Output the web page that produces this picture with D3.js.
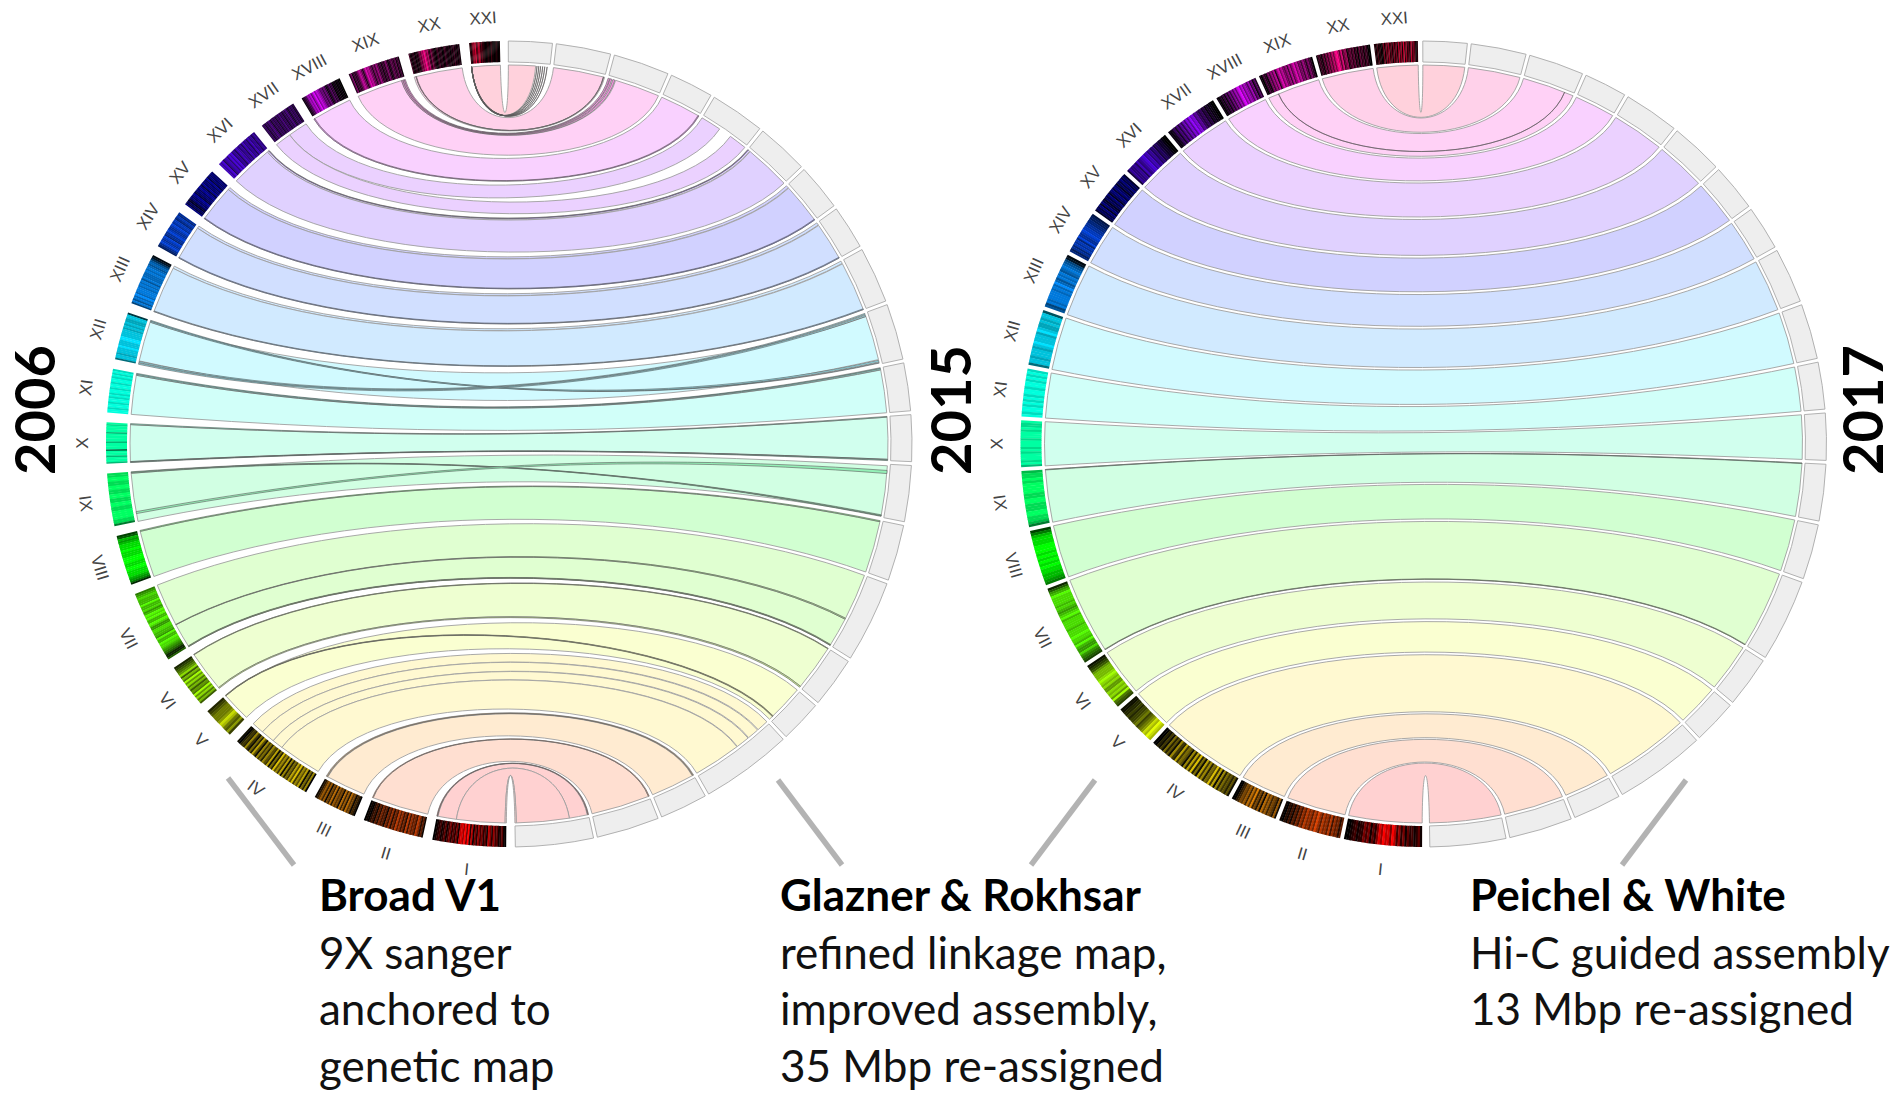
<!DOCTYPE html>
<html>
<head>
<meta charset="utf-8">
<script src="https://d3js.org/d3.v7.min.js"></script>
<style>
html,body{margin:0;background:#fff;}
svg{display:block;}
.lab{font:17px "Liberation Sans",sans-serif;fill:#444;text-anchor:middle;}
.year{font:bold 56px Lato,sans-serif;fill:#000;text-anchor:middle;}
.cap{font:44px Lato,sans-serif;fill:#111;}
.capb{font-weight:bold;fill:#000;}
</style>
</head>
<body>
<div class="draw"></div>
<script>
// chromosomes from the top of the circle to the bottom
var chroms = ["XXI","XX","XIX","XVIII","XVII","XVI","XV","XIV","XIII","XII","XI","X","IX","VIII","VII","VI","V","IV","III","II","I"];
var hues   = [346,328,312,292,274,260,240,222,207,187,172,158,143,120,100,82,66,52,34,18,0];

// sizes in Mbp
var len2006 = [11.7,19.7,20.2,16.3,14.6,18.1,16.2,15.2,20.1,18.4,16.7,15.7,20.2,19.4,27.9,17.1,12.3,32.6,16.8,23.3,28.2];
var len2015 = [16,20,20.5,16,20,19,17,16,20.5,20.5,17.5,17,20.5,20.5,30,18.5,15.5,33.5,17.5,23,28.5];
var len2017 = [16,20,20,15.5,20,19,17,16,20,20,17,17,20.5,20,30,18.5,16,33,17.5,23,27.5];

// gene density along each chromosome, 0 black .. 9 full colour
var bands2006 = [
 "10121011301210122426743856412",
 "120213120211231022132012352375796745312022113",
 "13142342135231324635245768524675323152",
 "0010110324213535467869758674321",
 "3243423534243534243424534243",
 "5646574657465674658685764867",
 "45453645463564543654532435",
 "6576577687667866587678654",
 "12467678787778687878887978685",
 "38877878788889988898887885",
 "898989989989989899899899",
 "98999979999979999599979997",
 "8899889988998899889999885",
 "34767888988899988998887652",
 "5678777977867989779866887769779887654224",
 "23456847596857465968574",
 "2345556875463",
 "1023263152741635264371528463716253748364715260",
 "12463615372645173627451320",
 "01023142534153625374635273645375241",
 "0123124135242517869592715263524175263412410"
];
var bands2015 = [
 "20353714262816371525142635151021312",
 "002313240314243165384798574635241231",
 "02352463547586473645758627463512301",
 "2415374675869857463524131201",
 "00112132434658796857463524211",
 "0012234354657687657465563",
 "243534245354253423525342",
 "3445566778766857675645",
 "1256787687867978788887856",
 "48878778978889878887885",
 "8989899899898989989",
 "988989998999898999897",
 "7889899998899888998875",
 "357888999898989887765",
 "24679888878767897888878889887976686543",
 "12346777898786687869543",
 "1122323345345687987",
 "00213152416327354162738251736254837162534241",
 "0023546374835261746354261",
 "10213142536475647586475647364524",
 "00123122535142586978597362514231241"
];

// linked blocks, from left to right of a circle:
// chromosome, left start, left end, right start, right end (Mbp from the end nearest the top)
var blocks2006 = [
 ["XXI",0,11.7,0,10.5],["XX",0,19,0,19.7],["XX",19,19.7,19.7,20],
 ["XIX",1.6,20.2,3,20.5],["XVIII",0,16.3,0,16],
 ["XVII",0,8,0,8],["XVII",8,14.6,13,20],
 ["XVI",0,1,0,1],["XVI",1,18.1,1.2,19],["XV",0,1,0,1],["XV",1,16.2,1.2,17],
 ["XIV",0,1,0,1],["XIV",1,15.2,1.2,16],["XIII",0,1,0,1],["XIII",1,20.1,1.2,20.5],
 ["XII",0.8,17,1.5,18.7],["XI",0.8,16.7,0.9,17.5],["X",0.4,15.3,0.3,16.5],
 ["IX",0.6,20.2,0.6,20],["VIII",0.4,19.4,0.4,20.5],
 ["VII",0,17.7,0,18],["VII",17.7,27.9,18.4,30],
 ["VI",0,16.7,0,18],["V",0.3,12.3,0,15.5],
 ["IV",0,5,0,4.5],["IV",5,10.6,4.8,9.3],["IV",10.6,15,9.6,14.8],["IV",15,32.6,15,33.5],
 ["III",0,0.7,0,0.6],["III",0.7,16.8,0.6,17.5],["II",0.3,23.3,0.3,23],
 ["I",0,0.5,0,0.5],["I",0.5,8,0.5,7.5],["I",8,27.7,7.5,28],["I",27.7,28.2,28,28.5]
];
// thin pieces that changed place or orientation
var moved2006 = [
 ["XXI",11.62,11.65,11,11.05],["XXI",11.62,11.65,11.7,11.75],["XXI",11.62,11.65,12.4,12.45],["XXI",11.62,11.65,13.2,13.25],["XXI",11.62,11.65,14,14.05],["XXI",11.62,11.65,14.9,14.95],
 ["XX",18.8,19,19.5,19.6],
 ["XIX",0,0.5,0,0.6],["XIX",0.5,1,0.8,1.5],["XIX",1.1,1.6,1.9,2.7],
 ["XVIII",15.9,16.3,15.6,15.9],["XVI",0.1,0.3,0.1,0.3],["XV",15.9,16.2,16.7,17],["XIV",14.9,15.2,15.7,16],["XIII",19.8,20.1,20.2,20.5],
 ["XII",0,0.4,19.9,20.1],["XII",0.4,0.8,19,19.6],["XII",17.2,17.7,0.2,0.6],["XII",17.9,18.4,0.9,1.4],
 ["XI",0,0.4,0,0.3],["XI",0.4,0.8,0.4,0.8],["X",0,0.4,0,0.3],["X",15.3,15.5,16.5,16.7],["X",15.5,15.7,16.7,17],
 ["IX",0,0.3,19.9,20.2],["IX",0.3,0.6,19.6,19.9],["IX",16.2,17,2.4,3.6],["VIII",0,0.4,0,0.4],
 ["VII",27.5,27.7,29.6,29.8],["VII",27.7,27.9,29.8,30],
 ["VII",17.5,17.7,18,18.4],["VI",16.7,17.1,18,18.5],["VI",0,0.2,0,0.2],
 ["V",0,0.15,13.6,13.8],["V",0.15,0.3,13.8,14],
 ["III",0.2,0.5,0.2,0.4],["II",0,0.3,0,0.3],["I",0.1,0.3,0.1,0.3]
];
var moved2017 = [
 ["XIX",16.4,16.45,16.5,16.55],["VII",29.8,30,29.8,30],["IX",0,0.2,0,0.2]
];

var years = ["2006","2015","2017"];
var captions = [
 ["Broad V1","9X sanger","anchored to","genetic map"],
 ["Glazner & Rokhsar","refined linkage map,","improved assembly,","35 Mbp re-assigned"],
 ["Peichel & White","Hi-C guided assembly","13 Mbp re-assigned"]
];

var width = 1902, height = 1095;
var svg = d3.select("div.draw").append("svg").attr("width", width).attr("height", height);

var rRibbon = 379, rIn = 382, rOut = 403, rLabel = 427;
var rad = Math.PI / 180;

function layout(lengths, start, end, gap) {
  var total = d3.sum(lengths);
  var k = (end - start - gap * (lengths.length - 1)) / total;
  var pos = start, out = {};
  lengths.forEach(function(l, i) {
    out[chroms[i]] = d3.scaleLinear().domain([0, l]).range([pos, pos + l * k]);
    pos += l * k + gap;
  });
  return out;
}

function pt(theta, r) {
  return [r * Math.sin(theta * rad), -r * Math.cos(theta * rad)];
}
// how far along the radius the curve keeps going before it bends across
function ctrl(theta) {
  var t = Math.abs(theta);
  t = Math.min(t, 180 - t);
  return 316 - 0.4 * t - 0.025 * t * t;
}
function edge(p, t0, t1) {
  var c0 = pt(t0, ctrl(t0)), c1 = pt(t1, ctrl(t1)), e = pt(t1, rRibbon);
  p.bezierCurveTo(c0[0], c0[1], c1[0], c1[1], e[0], e[1]);
}
function ribbon(l0, l1, r0, r1) {
  // l0 -> l1 on the left side, over to r1, back along the right side to r0, and home
  var p = d3.path();
  var s = pt(l0, rRibbon);
  p.moveTo(s[0], s[1]);
  p.arc(0, 0, rRibbon, (l0 - 90) * rad, (l1 - 90) * rad, l1 < l0);
  edge(p, l1, r1);
  p.arc(0, 0, rRibbon, (r1 - 90) * rad, (r0 - 90) * rad, r0 < r1);
  edge(p, r0, l0);
  p.closePath();
  return p.toString();
}

var arc = d3.arc().innerRadius(rIn).outerRadius(rOut);

function drawCircle(cx, cy, left, right, bands, blocks, moved) {
  var g = svg.append("g").attr("transform", "translate(" + cx + "," + cy + ") rotate(-0.55)");

  g.append("g").selectAll("path").data(blocks).enter().append("path")
    .attr("d", function(d) {
      return ribbon(-left[d[0]](d[1]), -left[d[0]](d[2]), right[d[0]](d[3]), right[d[0]](d[4]));
    })
    .attr("fill", function(d) { return d3.hsl(hues[chroms.indexOf(d[0])], 1, 0.91); })
    .attr("stroke", "#a0a0a0").attr("stroke-width", 0.9);

  g.append("g").selectAll("path").data(moved).enter().append("path")
    .attr("d", function(d) {
      return ribbon(-left[d[0]](d[1]), -left[d[0]](d[2]), right[d[0]](d[3]), right[d[0]](d[4]));
    })
    .attr("fill", function(d) { return d3.hsl(hues[chroms.indexOf(d[0])], 0.75, 0.76); })
    .attr("stroke", "#5a5a5a").attr("stroke-width", 0.6);

  // gray ring on the right side
  g.append("g").selectAll("path").data(chroms).enter().append("path")
    .attr("d", function(c) {
      var dom = right[c].range();
      return arc({startAngle: dom[0] * rad, endAngle: dom[1] * rad});
    })
    .attr("fill", "#eee").attr("stroke", "#aaa").attr("stroke-width", 0.9);

  // coloured ring on the left side
  chroms.forEach(function(c, i) {
    var dens = bands[i].split("").map(Number);
    var x = d3.scaleLinear().domain([0, dens.length]).range(left[c].range());
    var col = d3.interpolateRgb("#000", d3.hsl(hues[i], 1, 0.5));
    g.append("g").selectAll("path").data(dens).enter().append("path")
      .attr("d", function(v, j) {
        return arc({startAngle: -x(j) * rad, endAngle: -(x(j + 1) + (j < dens.length - 1 ? 0.05 : 0)) * rad});
      })
      .attr("fill", function(v) { return col(Math.pow(v / 9, 1.25)); });
    var mid = d3.mean(left[c].range());
    var q = pt(-mid, rLabel);
    var rot = mid < 90 ? -mid : 180 - mid;
    g.append("text").attr("class", "lab")
      .attr("transform", "translate(" + q[0] + "," + q[1] + ") rotate(" + rot + ")")
      .attr("dy", "0.36em")
      .text(c);
  });
}

var top0 = 0.45, bot0 = 179.65;
var ring2006 = layout(len2006, 0.75, 179.05, 1.4);
var ring2015 = layout(len2015, top0, bot0, 0.55);
var ring2015b = layout(len2015, 0.25, 179.25, 0.55);
var ring2017 = layout(len2017, top0, bot0, 0.55);

drawCircle(509, 444, ring2006, ring2015, bands2006, blocks2006, moved2006);
var plain2017 = chroms.map(function(c, i) { return [c, 0, len2015[i], 0, len2017[i]]; });
drawCircle(1423.5, 444, ring2015b, ring2017, bands2015, plain2017, moved2017);

// year titles
var yearX = [55, 971, 1883];
svg.selectAll(".year").data(years).enter().append("text")
  .attr("class", "year")
  .attr("transform", function(d, i) { return "translate(" + yearX[i] + ",410) rotate(-90)"; })
  .text(function(d) { return d; });

// leader lines
var leaders = [[228,778,294,865],[778,780,842,865],[1095,780,1031,865],[1686,780,1622,865]];
svg.selectAll(".leader").data(leaders).enter().append("line")
  .attr("x1", function(d) { return d[0]; }).attr("y1", function(d) { return d[1]; })
  .attr("x2", function(d) { return d[2]; }).attr("y2", function(d) { return d[3]; })
  .attr("stroke", "#b3b3b3").attr("stroke-width", 5.5);

// captions
var capX = [319, 780, 1470];
var capY = [911, 969, 1025, 1082];
captions.forEach(function(lines, i) {
  svg.append("g").selectAll("text").data(lines).enter().append("text")
    .attr("class", function(d, j) { return j == 0 ? "cap capb" : "cap"; })
    .attr("x", capX[i])
    .attr("y", function(d, j) { return capY[j]; })
    .text(function(d) { return d; });
});
</script>
</body>
</html>
